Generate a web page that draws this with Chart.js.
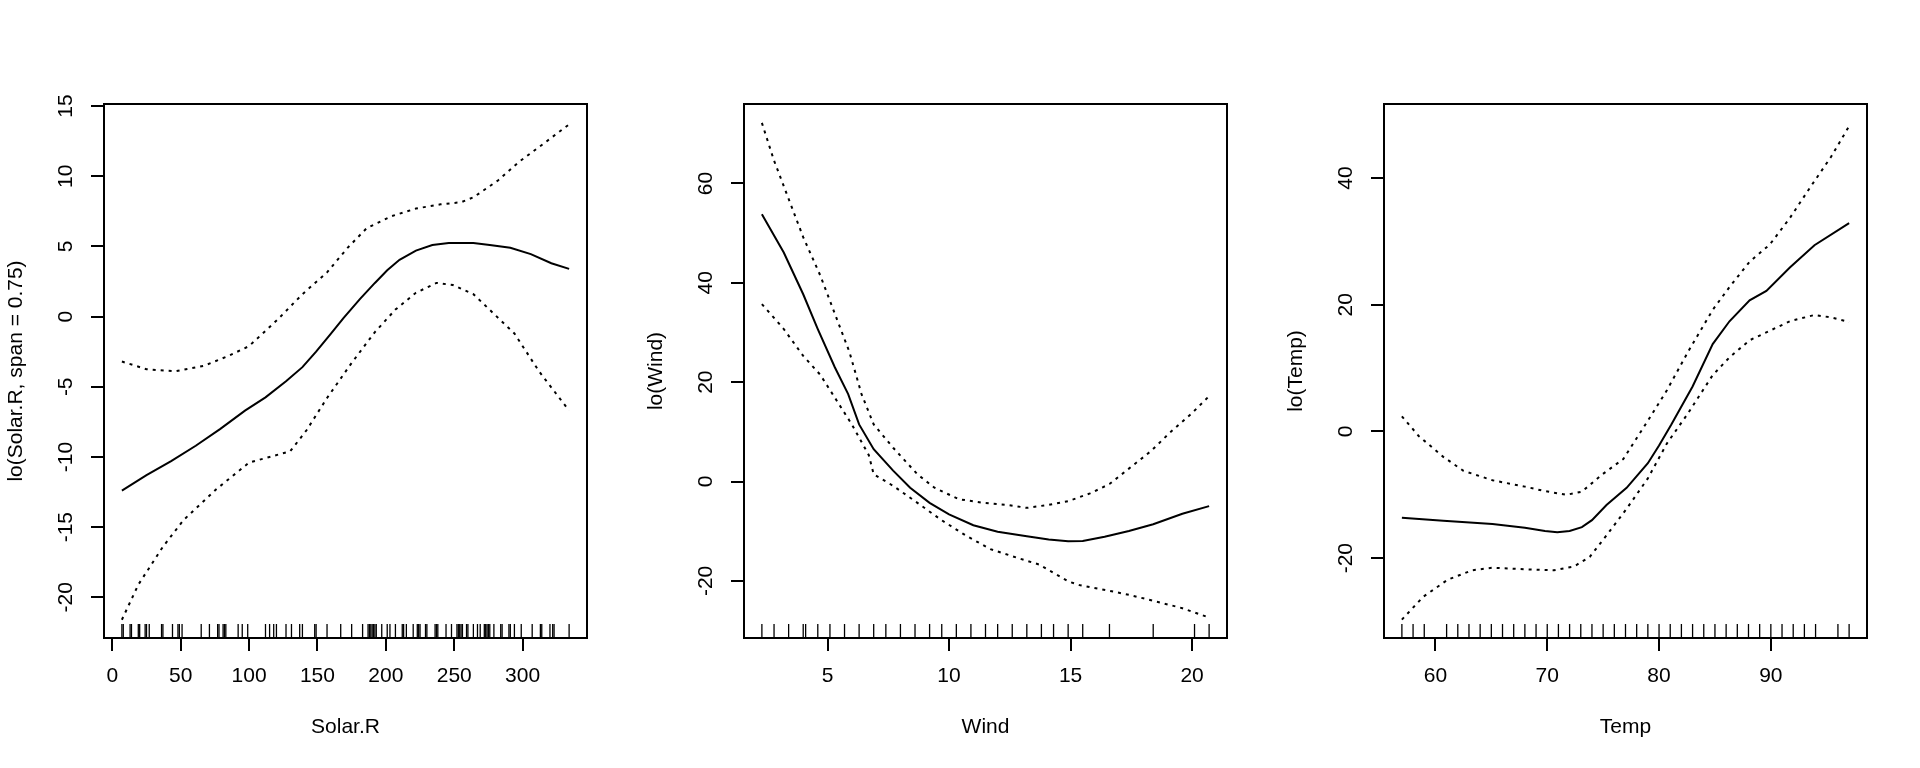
<!DOCTYPE html>
<html>
<head>
<meta charset="utf-8">
<script src="https://cdn.jsdelivr.net/npm/chart.js@4.4.1/dist/chart.umd.min.js"></script>
<style>
  html, body { margin: 0; padding: 0; background: #fff; }
  #row { display: flex; width: 1920px; height: 768px; }
  .panel { width: 640px; height: 768px; }
</style>
</head>
<body>
<div id="row">
  <div class="panel"><canvas id="solar" width="640" height="768"></canvas></div>
  <div class="panel"><canvas id="wind" width="640" height="768"></canvas></div>
  <div class="panel"><canvas id="temp" width="640" height="768"></canvas></div>
</div>
<script>
// --- lo(Solar.R) ---
const solarFitX = [7, 25, 43, 61, 79, 97, 112, 127, 139, 149, 160, 169, 181, 192, 201, 210, 222, 234, 246, 264, 276, 291, 306, 321, 334];
const solarFitY = [-12.4, -11.3, -10.3, -9.2, -8.0, -6.7, -5.75, -4.6, -3.6, -2.5, -1.2, -0.1, 1.25, 2.4, 3.3, 4.05, 4.7, 5.1, 5.25, 5.25, 5.1, 4.9, 4.45, 3.8, 3.4];
const solarHiX = [7, 25, 46, 67, 85, 100, 121, 139, 157, 172, 186, 204, 222, 240, 255, 264, 282, 297, 315, 334];
const solarHiY = [-3.2, -3.75, -3.9, -3.5, -2.8, -2.1, -0.2, 1.6, 3.15, 4.9, 6.3, 7.15, 7.7, 8.0, 8.15, 8.5, 9.7, 11.0, 12.3, 13.7];
const solarLoX = [7, 19, 37, 52, 76, 100, 115, 130, 142, 157, 175, 192, 207, 222, 237, 249, 264, 279, 294, 312, 334];
const solarLoY = [-21.6, -19.1, -16.4, -14.5, -12.3, -10.4, -10.0, -9.6, -8.1, -5.8, -3.3, -1.1, 0.5, 1.7, 2.4, 2.25, 1.6, 0.2, -1.2, -3.9, -6.7];
const solarRug = [7, 8, 13, 14, 19, 20, 24, 25, 27, 36, 37, 44, 48, 49, 51, 65, 71, 77, 78, 81, 82, 83, 92, 95, 99,
  112, 115, 118, 120, 127, 131, 137, 139, 148, 149, 157, 167, 175, 183, 187, 188, 189, 190, 191, 192, 193, 197,
  201, 203, 207, 212, 213, 215, 220, 223, 224, 225, 229, 230, 236, 237, 238, 244, 248, 252, 253, 254, 255, 256,
  259, 260, 264, 267, 269, 272, 273, 274, 275, 276, 279, 284, 285, 290, 291, 294, 299, 307, 313, 314, 320, 322, 323, 334];
const solarXTicks = [0, 50, 100, 150, 200, 250, 300];
const solarYTicks = [-20, -15, -10, -5, 0, 5, 10, 15];

// --- lo(Wind) ---
const windFitX = [2.3, 3.2, 4.0, 4.6, 5.3, 5.85, 6.3, 6.9, 7.7, 8.4, 9.2, 10.0, 11.0, 12.0, 13.2, 14.1, 14.9, 15.5, 16.4, 17.4, 18.4, 19.6, 20.7];
const windFitY = [53.8, 46.1, 37.7, 30.7, 23.0, 17.6, 11.5, 6.5, 2.2, -1.25, -4.3, -6.6, -8.8, -10.1, -11.0, -11.65, -12.0, -11.95, -11.1, -9.95, -8.6, -6.5, -4.95];
const windHiX = [2.3, 2.8, 3.4, 4.0, 4.7, 5.3, 5.9, 6.4, 6.9, 7.7, 8.7, 9.4, 10.4, 11.4, 12.4, 13.2, 14.1, 14.9, 15.8, 16.6, 17.4, 18.3, 19.1, 20.0, 20.7];
const windHiY = [72.2, 64.6, 56.9, 49.2, 41.5, 33.8, 26.1, 17.6, 11.5, 6.8, 1.45, -1.25, -3.55, -4.3, -4.7, -5.3, -4.7, -3.95, -2.4, -0.5, 2.6, 6.1, 9.9, 13.8, 17.2];
const windLoX = [2.3, 3.2, 4.0, 4.7, 5.3, 6.0, 6.7, 6.9, 7.7, 8.7, 9.7, 10.7, 11.7, 12.9, 13.7, 14.9, 15.4, 16.6, 17.4, 18.4, 19.6, 20.7];
const windLoY = [35.7, 30.7, 25.3, 21.5, 16.9, 11.5, 5.3, 1.45, -0.86, -4.3, -7.8, -10.9, -13.6, -15.5, -16.7, -20.1, -20.9, -22.0, -22.8, -24.0, -25.5, -27.4];
const windRug = [2.3, 2.8, 3.4, 4.0, 4.1, 4.6, 5.1, 5.7, 6.3, 6.9, 7.4, 8.0, 8.6, 9.2, 9.7, 10.3, 10.9, 11.5,
  12.0, 12.6, 13.2, 13.8, 14.3, 14.9, 15.5, 16.6, 18.4, 20.1, 20.7];
const windXTicks = [5, 10, 15, 20];
const windYTicks = [-20, 0, 20, 40, 60];

// --- lo(Temp) ---
const tempFitX = [57, 60.7, 65.1, 68, 69.8, 70.9, 72, 73.1, 74, 75.3, 77.1, 79, 80, 81.1, 83, 84.8, 86.3, 88.1, 89.6, 91.7, 93.9, 97];
const tempFitY = [-13.6, -14.1, -14.6, -15.2, -15.7, -15.9, -15.7, -15.1, -14.0, -11.6, -8.9, -5.0, -2.2, 1.1, 7.1, 13.8, 17.4, 20.7, 22.2, 25.9, 29.4, 32.9];
const tempHiX = [57, 58.5, 60.7, 62.5, 65.1, 68, 69.5, 71.7, 73.1, 74.9, 76.8, 79, 80.7, 82.6, 84.8, 86.3, 88.1, 89.9, 91.7, 93.5, 95.4, 97];
const tempHiY = [2.4, -0.7, -4.0, -6.2, -7.7, -8.7, -9.3, -10.0, -9.5, -6.8, -4.35, 1.7, 6.5, 12.6, 19.2, 22.8, 26.8, 29.5, 33.7, 38.5, 43.4, 48.2];
const tempLoX = [57, 58.9, 61.1, 63.3, 65.1, 68, 70.6, 72.4, 73.8, 75.3, 77.1, 79, 80.7, 82.6, 84.8, 86.3, 88.1, 89.9, 91.7, 93.9, 95.4, 97];
const tempLoY = [-29.7, -26.1, -23.4, -21.9, -21.5, -21.75, -21.9, -21.3, -19.8, -16.4, -12.2, -7.4, -1.9, 2.9, 8.9, 11.7, 14.4, 15.9, 17.4, 18.4, 18.0, 17.3];
const tempRug = [57, 58, 59, 61, 62, 63, 64, 65, 66, 67, 68, 69, 70, 71, 72, 73, 74, 75, 76, 77, 78, 79, 80,
  81, 82, 83, 84, 85, 86, 87, 88, 89, 90, 91, 92, 93, 94, 96, 97];
const tempXTicks = [60, 70, 80, 90];
const tempYTicks = [-20, 0, 20, 40];

const FONT = { family: "'Liberation Sans', Arial, Helvetica, sans-serif", size: 21 };

// draws the box around the plot region, like R's box()
const framePlugin = {
  id: 'frame',
  afterDatasetsDraw(chart) {
    const a = chart.chartArea;
    const ctx = chart.ctx;
    ctx.save();
    ctx.strokeStyle = '#000';
    ctx.lineWidth = 2;
    ctx.strokeRect(a.left, a.top, a.right - a.left, a.bottom - a.top);
    ctx.restore();
  }
};

function toPoints(xs, ys) {
  return xs.map((x, i) => ({ x: x, y: ys[i] }));
}

function curve(xs, ys, dashed) {
  return {
    type: 'line',
    data: toPoints(xs, ys),
    borderColor: '#000',
    borderWidth: 2,
    borderDash: dashed ? [3, 5] : [],
    pointRadius: 0,
    tension: 0,
    fill: false
  };
}

function makePanel(id, p) {
  // rug sits on the bottom edge, about 14px tall
  const rugY = p.yMin + (p.yMax - p.yMin) * 7 / 534;
  const datasets = [
    curve(p.fitX, p.fitY, false),
    curve(p.hiX, p.hiY, true),
    curve(p.loX, p.loY, true),
    {
      type: 'scatter',
      data: p.rug.map(x => ({ x: x, y: rugY })),
      pointStyle: 'line',
      pointRotation: 90,
      pointRadius: 7,
      pointBorderWidth: 1.3,
      pointBorderColor: '#000',
      showLine: false
    }
  ];

  new Chart(document.getElementById(id), {
    type: 'line',
    data: { datasets: datasets },
    options: {
      responsive: false,
      animation: false,
      devicePixelRatio: 1,
      layout: { padding: { top: 104, right: 53, left: 0, bottom: 0 } },
      plugins: { legend: { display: false }, tooltip: { enabled: false } },
      scales: {
        x: {
          type: 'linear',
          min: p.xMin,
          max: p.xMax,
          afterBuildTicks: s => { s.ticks = p.xTicks.map(v => ({ value: v })); },
          afterFit: s => { s.height = 130; },
          border: { display: false },
          grid: { drawOnChartArea: false, drawTicks: true, tickLength: 13, color: '#000', lineWidth: 2 },
          ticks: { color: '#000', font: FONT, padding: 13, maxRotation: 0, autoSkip: false, callback: v => String(v) },
          title: { display: true, text: p.xLabel, color: '#000', font: FONT, padding: { top: 0, bottom: 28 } }
        },
        y: {
          type: 'linear',
          min: p.yMin,
          max: p.yMax,
          afterBuildTicks: s => { s.ticks = p.yTicks.map(v => ({ value: v })); },
          afterFit: s => { s.width = 104; },
          border: { display: false },
          grid: { drawOnChartArea: false, drawTicks: true, tickLength: 13, color: '#000', lineWidth: 2 },
          ticks: { color: '#000', font: FONT, padding: 10, minRotation: 90, maxRotation: 90, crossAlign: 'center', autoSkip: false, callback: v => String(v) },
          title: { display: true, text: p.yLabel, color: '#000', font: FONT, padding: { top: 4, bottom: 0 } }
        }
      }
    },
    plugins: [framePlugin]
  });
}

makePanel('solar', {
  fitX: solarFitX, fitY: solarFitY, hiX: solarHiX, hiY: solarHiY, loX: solarLoX, loY: solarLoY,
  rug: solarRug, xTicks: solarXTicks, yTicks: solarYTicks,
  xMin: -6.08, xMax: 347.08, yMin: -22.9, yMax: 15.15,
  xLabel: 'Solar.R', yLabel: 'lo(Solar.R, span = 0.75)'
});
makePanel('wind', {
  fitX: windFitX, fitY: windFitY, hiX: windHiX, hiY: windHiY, loX: windLoX, loY: windLoY,
  rug: windRug, xTicks: windXTicks, yTicks: windYTicks,
  xMin: 1.564, xMax: 21.436, yMin: -31.5, yMax: 76.0,
  xLabel: 'Wind', yLabel: 'lo(Wind)'
});
makePanel('temp', {
  fitX: tempFitX, fitY: tempFitY, hiX: tempHiX, hiY: tempHiY, loX: tempLoX, loY: tempLoY,
  rug: tempRug, xTicks: tempXTicks, yTicks: tempYTicks,
  xMin: 55.4, xMax: 98.6, yMin: -32.6, yMax: 51.7,
  xLabel: 'Temp', yLabel: 'lo(Temp)'
});
</script>
</body>
</html>
